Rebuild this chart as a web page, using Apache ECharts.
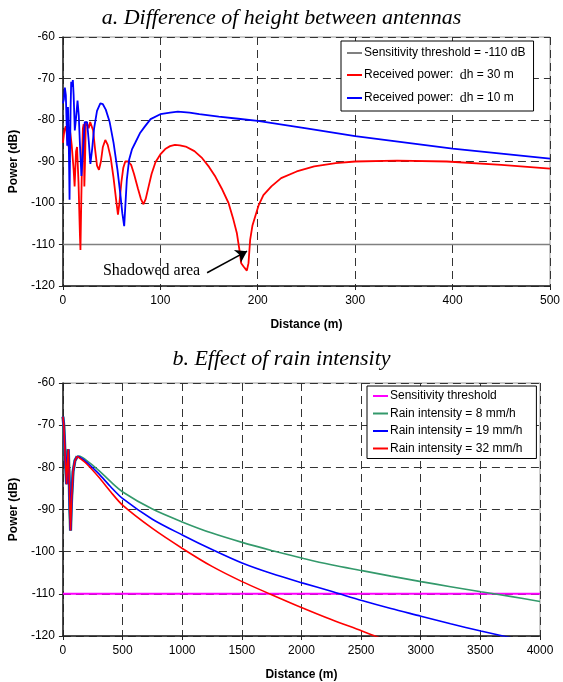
<!DOCTYPE html>
<html><head><meta charset="utf-8">
<script src="https://cdn.jsdelivr.net/npm/echarts@6/dist/echarts.min.js"></script>
<style>html,body{margin:0;padding:0;background:#fff}#c{width:563px;height:682px}</style>
</head><body><div id="c"></div>
<script>
// ---- Chart a: Difference of height between antennas ----
var thresholdA = [[0,-110],[500,-110]];
var dh30 = [[0,-85.5],[1.5,-82.5],[3,-81.5],[4.5,-84.5],[6,-86.5],[7.5,-83],[9,-86],[11,-92],[12,-96],[13.5,-87.5],[14.5,-86.5],[16,-95],[17.5,-108],[18,-111.3],[18.8,-100],[19.8,-88],[20.5,-82],[21.3,-81],[22,-96],[22.7,-90],[23.5,-80.5],[25,-81],[26.5,-82],[28,-80.5],[29.5,-80.3],[31,-82.5],[33,-87],[35,-91],[37,-92],[39,-90],[41,-86.5],[43.5,-84.8],[46,-86],[49,-89],[52,-94],[54.5,-99],[56.5,-102.8],[58,-100],[60,-95],[62,-91.5],[64,-90],[67,-90],[70,-90.8],[73,-93],[77,-96.5],[80,-99],[82.7,-100.3],[85,-99],[88,-96],[91,-93],[95,-90.2],[100,-88.3],[105,-87],[110,-86.3],[115,-86],[120,-86.1],[126,-86.4],[135,-87.5],[143,-89.2],[150,-91.3],[156.6,-93.7],[163,-96.5],[170,-100],[175,-104],[178.6,-107.3],[181,-111],[183,-114.5],[185.4,-115.3],[188.8,-116.3],[190.5,-114.5],[192.2,-108.9],[194.5,-105.5],[197.3,-103.3],[201,-100.5],[205.8,-98.1],[214,-96],[224,-94],[240,-92.4],[258,-91.2],[280,-90.4],[300,-90],[343,-89.8],[394,-90],[450,-90.8],[500,-91.7]];
var dh10 = [[0,-76],[1,-75],[2,-72.2],[3,-74],[3.7,-80],[4.4,-86.2],[4.8,-80],[5.2,-76.9],[5.8,-82],[6.4,-92],[6.8,-99.2],[7.3,-88],[7.9,-77],[8.5,-70.8],[9.3,-72],[10.2,-70.4],[11,-74],[12.2,-82.5],[13.3,-80],[15,-75.3],[16.3,-79],[17.5,-86],[19,-93.5],[20.5,-88],[22.4,-80.5],[24.8,-80.5],[26.5,-85],[28.2,-90.6],[30,-87],[32,-82],[35,-77.8],[38.4,-76],[41,-76.2],[44,-77.5],[48,-80.5],[52,-85.5],[56,-92],[59,-98],[61,-102.5],[62.9,-105.6],[64,-101],[65.6,-94.4],[68,-89.5],[71,-87],[74,-85.6],[79,-83.2],[84,-81.6],[90,-79.8],[100,-78.6],[110,-78.2],[118,-78],[130,-78.2],[140,-78.6],[160,-79.2],[180,-79.7],[200,-80.2],[250,-82],[300,-83.9],[350,-85.4],[400,-86.9],[450,-88.1],[500,-89.3]];
// ---- Chart b: Effect of rain intensity ----
var thresholdB = [[0,-110],[4000,-110]];
var early = [[0,-68],[8,-70.3],[20,-78],[31,-84],[38,-79],[45,-75.7],[52,-82],[58,-90],[64,-95],[72,-88],[85,-81],[101,-78.4],[120,-77.4]];
var rain8 = [[120,-77.4],[135,-77.3],[200,-78.4],[300,-80.7],[400,-83.4],[505,-85.9],[750,-89.9],[1005,-93.0],[1250,-95.6],[1502,-97.8],[1750,-99.7],[2018,-101.6],[2250,-103.1],[2508,-104.5],[2750,-105.8],[3002,-107.1],[3250,-108.3],[3504,-109.5],[3750,-110.6],[4000,-111.8]];
var rain19 = [[120,-77.4],[135,-77.5],[200,-78.8],[300,-81.5],[400,-84.6],[505,-87.5],[750,-92.3],[1005,-96.1],[1250,-99.5],[1502,-102.7],[1750,-105.2],[2005,-107.4],[2250,-109.4],[2507,-111.6],[2750,-113.5],[3002,-115.3],[3250,-117.1],[3504,-118.8],[3708,-120.1],[3800,-120.7]];
var rain32 = [[120,-77.4],[135,-77.7],[200,-79.2],[300,-82.3],[400,-85.8],[505,-89.1],[750,-94.5],[1005,-99.3],[1250,-103.5],[1502,-107.1],[1750,-110.2],[2005,-113.3],[2250,-116.1],[2507,-118.8],[2605,-119.9],[2700,-120.9]];
var annotationArrow = [[148,-116.8],[189,-111.6]];
var annotationText = [91,-116.4];

var chart = echarts.init(document.getElementById('c'));
var sans = 'Liberation Sans, Arial, sans-serif';
var serif = 'Liberation Serif, Times New Roman, serif';
function xAx(idx, max, interval){
  return {gridIndex: idx, type:'value', min:0, max:max, interval:interval,
    name:'Distance (m)', nameLocation:'middle', nameGap:33,
    nameTextStyle:{fontFamily:sans, fontWeight:'bold', fontSize:12, color:'#000'},
    axisLine:{lineStyle:{color:'#222', width:1.5}},
    axisTick:{show:true, length:4, lineStyle:{color:'#222'}},
    axisLabel:{fontFamily:sans, fontSize:12, color:'#000', margin:9, formatter:function(v){return String(v);}},
    splitLine:{show:true, lineStyle:{color:'#333', type:[8,5], width:1}}};
}
function yAx(idx){
  return {gridIndex: idx, type:'value', min:-120, max:-60, interval:10,
    name:'Power (dB)', nameLocation:'middle', nameGap:40,
    nameTextStyle:{fontFamily:sans, fontWeight:'bold', fontSize:12, color:'#000'},
    axisLine:{show:true, lineStyle:{color:'#222', width:1.5}},
    axisTick:{show:true, length:4, lineStyle:{color:'#222'}},
    axisLabel:{fontFamily:sans, fontSize:12, color:'#000', margin:8},
    splitLine:{show:true, lineStyle:{color:'#333', type:[8,5], width:1}}};
}
function ln(name, data, color, w, xi, z, smooth){
  return {name:name, type:'line', data:data, xAxisIndex:xi, yAxisIndex:xi, showSymbol:false, symbol:'none',
    smooth: smooth || false,
    lineStyle:{color:color, width:w}, itemStyle:{color:color}, z:z||2, animation:false, clip:true};
}
var series = [
  ln('thrA', thresholdA, '#808080', 1.5, 0, 2),
  ln('dh30', dh30, '#ff0000', 1.8, 0, 3),
  ln('dh10', dh10, '#0000ff', 1.8, 0, 4),
  ln('thrB', thresholdB, '#ff00ff', 2, 1, 2),
  ln('r8', rain8, '#33996b', 1.6, 1, 3, 0.3),
  ln('r19', rain19, '#0000ff', 1.6, 1, 4, 0.3),
  ln('r32', rain32, '#ff0000', 1.6, 1, 5, 0.3),
  ln('r8', early, '#33996b', 3.2, 1, 3),
  ln('r19', early, '#0000ff', 2.4, 1, 4),
  ln('r32', early, '#ff0000', 1.6, 1, 5)
];
var annot = {name:'annot', type:'line', xAxisIndex:0, yAxisIndex:0, data:[], symbol:'none', z:6, animation:false,
  markLine:{silent:true, symbol:['none','arrow'], symbolSize:11,
    lineStyle:{color:'#000', width:1.5, type:'solid'}, label:{show:false},
    data:[[{coord:annotationArrow[0]},{coord:annotationArrow[1]}]], animation:false},
  markPoint:{silent:true, symbol:'circle', symbolSize:1, itemStyle:{color:'rgba(0,0,0,0)'},
    label:{show:true, position:'inside', formatter:'Shadowed area', fontFamily:serif, fontSize:16, color:'#000'},
    data:[{coord:annotationText}], animation:false}};
series.push(annot);

chart.setOption({
  animation:false,
  backgroundColor:'#fff',
  title:[
    {text:'a. Difference of height between antennas', left:'center', top:2,
     textStyle:{fontFamily:serif, fontStyle:'italic', fontWeight:'normal', fontSize:22, color:'#000'}},
    {text:'b. Effect of rain intensity', left:'center', top:343,
     textStyle:{fontFamily:serif, fontStyle:'italic', fontWeight:'normal', fontSize:22, color:'#000'}}
  ],
  grid:[
    {left:62, top:37, width:490, height:249, show:true, borderColor:'#999', borderWidth:1},
    {left:62, top:383, width:478, height:254, show:true, borderColor:'#999', borderWidth:1}
  ],
  xAxis:[xAx(0,500,100), xAx(1,4000,500)],
  yAxis:[yAx(0), yAx(1)],
  legend:[
    {orient:'vertical', left:341, top:41, width:209, padding:[6,8,6,6], itemGap:9,
     backgroundColor:'#fff', borderColor:'#000', borderWidth:1, borderRadius:0,
     icon:'rect', itemWidth:15, itemHeight:2,
     data:['thrA','dh30','dh10'],
     formatter:function(n){return {thrA:'{a|Sensitivity threshold = -110 dB}', dh30:'{a|Received power: }{b|d}{a|h = 30 m}', dh10:'{a|Received power: }{b|d}{a|h = 10 m}'}[n];},
     textStyle:{fontFamily:sans, fontSize:12, color:'#000', padding:[0,0,0,-3],
       rich:{a:{fontFamily:sans, fontSize:12, color:'#000'}, b:{fontFamily:serif, fontSize:14, color:'#000', padding:[0,0,0,3]}}}},
    {orient:'vertical', left:367, top:386, width:170, padding:[4,14,4,6], itemGap:5.5,
     backgroundColor:'#fff', borderColor:'#000', borderWidth:1, borderRadius:0,
     icon:'rect', itemWidth:15, itemHeight:2,
     data:['thrB','r8','r19','r32'],
     formatter:function(n){return {thrB:'Sensitivity threshold', r8:'Rain intensity = 8 mm/h', r19:'Rain intensity = 19 mm/h', r32:'Rain intensity = 32 mm/h'}[n];},
     textStyle:{fontFamily:sans, fontSize:12, color:'#000', padding:[0,0,0,-3]}}
  ],
  series:series
});
</script></body></html>
